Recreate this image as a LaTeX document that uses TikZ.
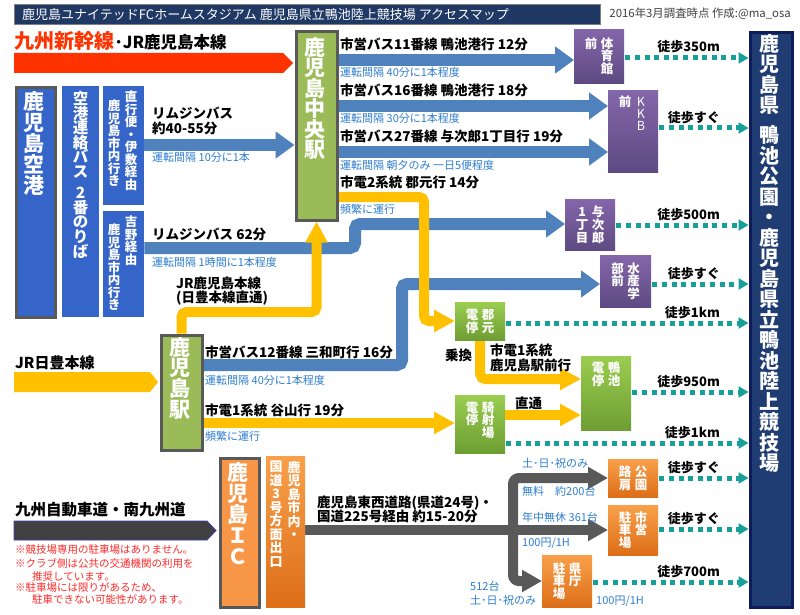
\documentclass[tikz,border=0pt]{standalone}
\usepackage{fontspec}
\setmainfont{Noto Sans CJK JP}
\usetikzlibrary{arrows.meta}
\pgfdeclarelayer{bg}
\pgfsetlayers{bg,main}
\definecolor{ttl}{HTML}{203864}
\definecolor{ttlbd}{HTML}{7F7F7F}
\definecolor{txtg}{HTML}{404040}
\definecolor{rd}{HTML}{FF3300}
\definecolor{bl}{HTML}{4F81BD}
\definecolor{abl}{HTML}{3565C8}
\definecolor{grn}{HTML}{9BBB59}
\definecolor{gbd}{HTML}{595959}
\definecolor{ylw}{HTML}{FFC000}
\definecolor{wlk}{HTML}{16A099}
\definecolor{stbl}{HTML}{1F3C73}
\definecolor{stbd}{HTML}{0E1C5C}
\definecolor{ptop}{HTML}{8466AA}
\definecolor{pbot}{HTML}{5E4A82}
\definecolor{gtop}{HTML}{9ACD50}
\definecolor{gbot}{HTML}{6E9E33}
\definecolor{otop}{HTML}{F9A04A}
\definecolor{obot}{HTML}{DD6E18}
\definecolor{icor}{HTML}{F79646}
\definecolor{road}{HTML}{595959}
\definecolor{hwy}{HTML}{404040}
\definecolor{hwybd}{HTML}{4040B0}
\definecolor{sbl}{HTML}{2F7ED0}
\definecolor{nred}{HTML}{FF2A2A}
\newcommand\fsz[1]{\fontsize{#1pt}{#1pt}\selectfont}
\def\vcolEnd{VCOLEND}
\def\vgap{VGAP}
\def\vcolA#1{%
  \ifx#1\vcolEnd\let\vcolNext\relax
  \else
    \ifx#1\vgap\vskip.45\baselineskip\relax
    \else\hbox to 1em{\hss#1\hss}%
    \fi
    \let\vcolNext\vcolA
  \fi\vcolNext}
\newcommand\vcol[2][1.02em]{\vtop{\baselineskip=#1\relax\lineskiplimit=-100pt\relax\lineskip=0pt\relax\vcolA#2\vcolEnd}}
\begin{document}
\begin{tikzpicture}[x=1pt,y=-1pt,
  bx/.style={rectangle, inner sep=0pt, anchor=north west},
  stn/.style={bx, fill=grn, draw=gbd, line width=3pt},
  abox/.style={bx, fill=abl},
  pbox/.style={bx, top color=ptop, bottom color=pbot},
  gbox/.style={bx, top color=gtop, bottom color=gbot},
  obox/.style={bx, top color=otop, bottom color=obot},
  lb/.style={inner sep=0pt, anchor=base west, font=\fsz{13.5}\bfseries},
  sb/.style={inner sep=0pt, anchor=base west, font=\fsz{11}, text=sbl},
  wl/.style={inner sep=0pt, anchor=base east, font=\fsz{13}\bfseries},
  nt/.style={inner sep=0pt, anchor=base west, font=\fsz{10.5}, text=nred},
  vw/.style={inner sep=0pt, text=white, font=\fsz{12.5}\bfseries},
  busar/.style={draw=bl, line width=12pt, rounded corners=5pt, -{Triangle[length=19pt,width=26pt]}},
  ylar/.style={draw=ylw, line width=10pt, rounded corners=5pt, -{Triangle[length=21pt,width=21pt]}},
  rdar/.style={draw=road, line width=10pt, rounded corners=6pt, -{Triangle[length=20pt,width=21pt]}},
  walk/.style={draw=wlk, line width=5pt, dash pattern=on 5pt off 4.6pt, -{Triangle[length=10pt,width=11pt]}}
]
\useasboundingbox (0,0) rectangle (800,615);
\begin{pgfonlayer}{bg}
\fill[white] (0,0) rectangle (800,615);
\end{pgfonlayer}

% ---------- title ----------
\node[bx, fill=ttl, draw=ttlbd, line width=1pt, minimum width=586pt, minimum height=20pt] (title) at (14,4) {};
\node[anchor=west, inner sep=0pt, text=white, font=\fsz{13}] (titleT) at (22,14.2) {鹿児島ユナイテッドFCホームスタジアム 鹿児島県立鴨池陸上競技場 アクセスマップ};
\node[anchor=east, inner sep=0pt, font=\fsz{11.4}, text=txtg] (date) at (791,14) {2016年3月調査時点 作成:@ma\_osa};

% ---------- boxes ----------
\node[stn, minimum width=41pt, minimum height=188pt] (chuo) at (294.5,30.5) {};
\node[stn, fill=abl, minimum width=39pt, minimum height=229pt] (air) at (14.5,86.5) {};
\node[abox, minimum width=37pt, minimum height=231pt] (rbus) at (62,86) {};
\node[abox, minimum width=41pt, minimum height=119pt] (lim1) at (103,86) {};
\node[abox, minimum width=41pt, minimum height=106pt] (lim2) at (103,211) {};
\node[stn, minimum width=41pt, minimum height=115pt] (kago) at (159.5,333.5) {};
\node[stn, fill=icor, minimum width=39pt, minimum height=149pt] (ic) at (218.5,456.5) {};
\node[obox, minimum width=39pt, minimum height=151pt] (kokudo) at (266,456) {};
\node[pbox, minimum width=50pt, minimum height=54pt] (tai) at (574,29) {};
\node[pbox, minimum width=50pt, minimum height=82pt] (kkb) at (608,90) {};
\node[pbox, minimum width=50pt, minimum height=51pt] (yoj) at (565,199) {};
\node[pbox, minimum width=51pt, minimum height=52pt] (sui) at (600,255) {};
\node[gbox, minimum width=50pt, minimum height=38pt] (kor) at (455,302) {};
\node[gbox, minimum width=50pt, minimum height=74pt] (kam) at (581,356) {};
\node[gbox, minimum width=50pt, minimum height=58pt] (kis) at (455,395) {};
\node[obox, minimum width=50pt, minimum height=38pt] (kou) at (608,459) {};
\node[obox, minimum width=50pt, minimum height=50pt] (shi) at (608,505) {};
\node[obox, minimum width=50pt, minimum height=52pt] (ken) at (542,555) {};
\node[bx, fill=stbl, draw=stbd, line width=3pt, minimum width=42pt, minimum height=574pt] (stad) at (748.5,31.5) {};

% ---------- box texts ----------
\node[vw, font=\fsz{21}\bfseries, anchor=north] (chuoT) at (315,37) {\vcol[20.5pt]{鹿児島中央駅}};
\node[vw, font=\fsz{21}\bfseries, anchor=north] (airT) at (34,91) {\vcol[21pt]{鹿児島空港}};
\node[vw, font=\fsz{15.5}\bfseries, anchor=north] (rbusT) at (80.5,91) {\vcol[14.6pt]{空港連絡バス\vgap 2番のりば}};
\node[vw, anchor=north] (lim1R) at (131,91) {\vcol[12.5pt]{直行便・伊敷経由}};
\node[vw, anchor=north] (lim1L) at (114,100) {\vcol[12.5pt]{鹿児島市内行き}};
\node[vw, anchor=north] (lim2R) at (131,216) {\vcol[12.5pt]{吉野経由}};
\node[vw, anchor=north] (lim2L) at (114,224) {\vcol[12.5pt]{鹿児島市内行き}};
\node[vw, font=\fsz{21}\bfseries, anchor=north] (kagoT) at (180,337) {\vcol[20.7pt]{鹿児島駅}};
\node[vw, font=\fsz{21}\bfseries, anchor=north] (icT) at (238,462) {\vcol[21pt]{鹿児島ＩＣ}};
\node[vw, font=\fsz{13}\bfseries, anchor=north] (kokR) at (294,461) {\vcol[13.5pt]{鹿児島市内・}};
\node[vw, font=\fsz{13}\bfseries, anchor=north] (kokL) at (276,461) {\vcol[13.5pt]{国道3号方面出口}};
\node[vw, font=\fsz{20}\bfseries, anchor=north] (stadT) at (769.5,34) {\vcol[20.5pt]{鹿児島県\vgap 鴨池公園・鹿児島県立鴨池陸上競技場}};
\node[vw] (taiT) at (tai.center) {\vcol{前}\hspace{3.5pt}\vcol{体育館}};
\node[vw, anchor=north] (kkbT) at (633,96) {\vcol{前}\hspace{3.5pt}{\mdseries\vcol[11.8pt]{KKB}}};
\node[vw] (yojT) at (yoj.center) {\vcol{1丁目}\hspace{3.5pt}\vcol{与次郎}};
\node[vw] (suiT) at (sui.center) {\vcol{部前}\hspace{3.5pt}\vcol{水産学}};
\node[vw] (korT) at (kor.center) {\vcol{電停}\hspace{3.5pt}\vcol{郡元}};
\node[vw, anchor=north] (kamT) at (606,362) {\vcol{電停}\hspace{3.5pt}\vcol{鴨池}};
\node[vw] (kisT) at ([yshift=4pt]kis.center) {\vcol{電停}\hspace{3.5pt}\vcol{騎射場}};
\node[vw] (kouT) at (kou.center) {\vcol{路肩}\hspace{3.5pt}\vcol{公園}};
\node[vw] (shiT) at (shi.center) {\vcol{駐車場}\hspace{3.5pt}\vcol{市営}};
\node[vw] (kenT) at (ken.center) {\vcol{駐車場}\hspace{3.5pt}\vcol{県庁}};

% ---------- line heads ----------
\node[lb, font=\fsz{20}\bfseries, text=rd] (shink) at (14,49) {九州新幹線};
\node[lb, font=\fsz{16.5}\bfseries] (jrk) at (shink.base east) {･JR鹿児島本線};
\node[lb, font=\fsz{15}\bfseries] (jrn) at (15,368) {JR日豊本線};
\node[lb, font=\fsz{15.5}\bfseries] (hwyT) at (15,515) {九州自動車道・南九州道};

% ---------- labels ----------
\node[lb] (b11) at (340,50) {市営バス11番線 鴨池港行 12分};
\node[sb] (b11s) at (340,77) {運転間隔 40分に1本程度};
\node[lb] (b16) at (340,96) {市営バス16番線 鴨池港行 18分};
\node[sb] (b16s) at (340,123) {運転間隔 30分に1本程度};
\node[lb] (b27) at (340,142) {市営バス27番線 与次郎1丁目行 19分};
\node[sb] (b27s) at (340,169) {運転間隔 朝夕のみ 一日5便程度};
\node[lb] (t2) at (340,187) {市電2系統 郡元行 14分};
\node[sb] (t2s) at (340,213) {頻繁に運行};
\node[lb] (l1a) at (152,119) {リムジンバス};
\node[lb] (l1b) at (152,134) {約40-55分};
\node[sb] (l1s) at (152,161) {運転間隔 10分に1本};
\node[lb] (l2) at (152,239) {リムジンバス 62分};
\node[sb] (l2s) at (152,266) {運転間隔 1時間に1本程度};
\node[lb] (jrka) at (176,288) {JR鹿児島本線};
\node[lb] (jrkb) at (176,302) {(日豊本線直通)};
\node[lb] (b12) at (205,357) {市営バス12番線 三和町行 16分};
\node[sb] (b12s) at (205,384) {運転間隔 40分に1本程度};
\node[lb] (t1) at (205,415) {市電1系統 谷山行 19分};
\node[sb] (t1s) at (205,440) {頻繁に運行};
\node[lb] (norikae) at (445,360) {乗換};
\node[lb] (t1ka) at (490,355) {市電1系統};
\node[lb] (t1kb) at (490,370) {鹿児島駅前行};
\node[lb] (choku) at (515,408) {直通};
\node[lb] (rda) at (317,507) {鹿児島東西道路(県道24号)・};
\node[lb] (rdb) at (317,521) {国道225号経由 約15-20分};
\node[sb] (p1) at (522,467) {土･日･祝のみ};
\node[sb] (p2) at (522,495) {無料　約200台};
\node[sb] (p3) at (522,521) {年中無休 361台};
\node[sb] (p4) at (522,546) {100円/1H};
\node[sb] (p5) at (470,590) {512台};
\node[sb] (p6) at (470,604) {土･日･祝のみ};
\node[sb] (p7) at (596,604) {100円/1H};
\node[nt] (n1) at (15,553) {※競技場専用の駐車場はありません。};
\node[nt] (n2) at (15,567) {※クラブ側は公共の交通機関の利用を};
\node[nt] (n3) at (32,580) {推奨しています。};
\node[nt] (n4) at (15,591) {※駐車場には限りがあるため、};
\node[nt] (n5) at (32,603) {駐車できない可能性があります。};

% walking labels
\node[wl] (w1) at (720,52) {徒歩350m};
\node[wl] (w2) at (720,123) {徒歩すぐ};
\node[wl] (w3) at (720,219) {徒歩500m};
\node[wl] (w4) at (720,278) {徒歩すぐ};
\node[wl] (w5) at (720,317) {徒歩1km};
\node[wl] (w6) at (720,386) {徒歩950m};
\node[wl] (w7) at (720,437) {徒歩1km};
\node[wl] (w8) at (720,472) {徒歩すぐ};
\node[wl] (w9) at (720,523) {徒歩すぐ};
\node[wl] (w10) at (720,576) {徒歩700m};

% ---------- connectors ----------
\begin{pgfonlayer}{bg}
\fill[rd] (14,53) -- (283,53) -- (293,63) -- (283,73) -- (14,73) -- cycle;
\fill[ylw] (14,372) -- (150,372) -- (158,382) -- (150,392) -- (14,392) -- cycle;
\filldraw[fill=hwy, draw=hwybd, line width=0.8pt] (14,521) -- (207,521) -- (216,530.5) -- (207,540) -- (14,540) -- cycle;

\draw[busar] (lim1.east |- 0,145) -- (chuo.west |- 0,145);
\draw[busar] (lim2.east |- 0,248) -- (355,248) -- (355,224) -- (yoj.west |- 0,224);
\draw[busar] (chuo.east |- 0,60) -- (tai.west |- 0,60);
\draw[busar] (chuo.east |- 0,106) -- (kkb.west |- 0,106);
\draw[busar] (chuo.east |- 0,152) -- (kkb.west |- 0,152);
\draw[busar] (kago.east |- 0,365) -- (402,365) -- (402,284) -- (sui.west |- 0,284);

\draw[ylar] (chuo.east |- 0,197) -- (424,197) -- (424,321) -- (kor.west |- 0,321);
\draw[ylar] (kago.north) -- (kago.north |- 0,312) -- (chuo.south |- 0,312) -- (chuo.south);
\draw[ylar] (kor.south) -- (kor.south |- 0,379) -- (kam.west |- 0,379);
\draw[ylar] (kago.east |- 0,423) -- (kis.west |- 0,423);
\draw[ylar] (kis.east |- 0,415) -- (kam.west |- 0,415);

\coordinate (jct) at (513,530);
\draw[rdar] (kokudo.east |- 0,530) -- (shi.west |- 0,530);
\draw[rdar] (jct) -- (513,478) -- (kou.west |- 0,478);
\draw[rdar] (jct) -- (513,581) -- (ken.west |- 0,581);

\draw[walk] ([xshift=1pt]tai.east |- 0,58) -- (stad.west |- 0,58);
\draw[walk] ([xshift=1pt]kkb.east |- 0,128) -- (stad.west |- 0,128);
\draw[walk] ([xshift=1pt]yoj.east |- 0,225) -- (stad.west |- 0,225);
\draw[walk] ([xshift=1pt]sui.east |- 0,284) -- (stad.west |- 0,284);
\draw[walk] ([xshift=1pt]kor.east |- 0,323) -- (stad.west |- 0,323);
\draw[walk] ([xshift=1pt]kam.east |- 0,392) -- (stad.west |- 0,392);
\draw[walk] ([xshift=1pt]kis.east |- 0,443) -- (stad.west |- 0,443);
\draw[walk] ([xshift=1pt]kou.east |- 0,478) -- (stad.west |- 0,478);
\draw[walk] ([xshift=1pt]shi.east |- 0,529) -- (stad.west |- 0,529);
\draw[walk] ([xshift=1pt]ken.east |- 0,582) -- (stad.west |- 0,582);
\end{pgfonlayer}
\end{tikzpicture}
\end{document}
